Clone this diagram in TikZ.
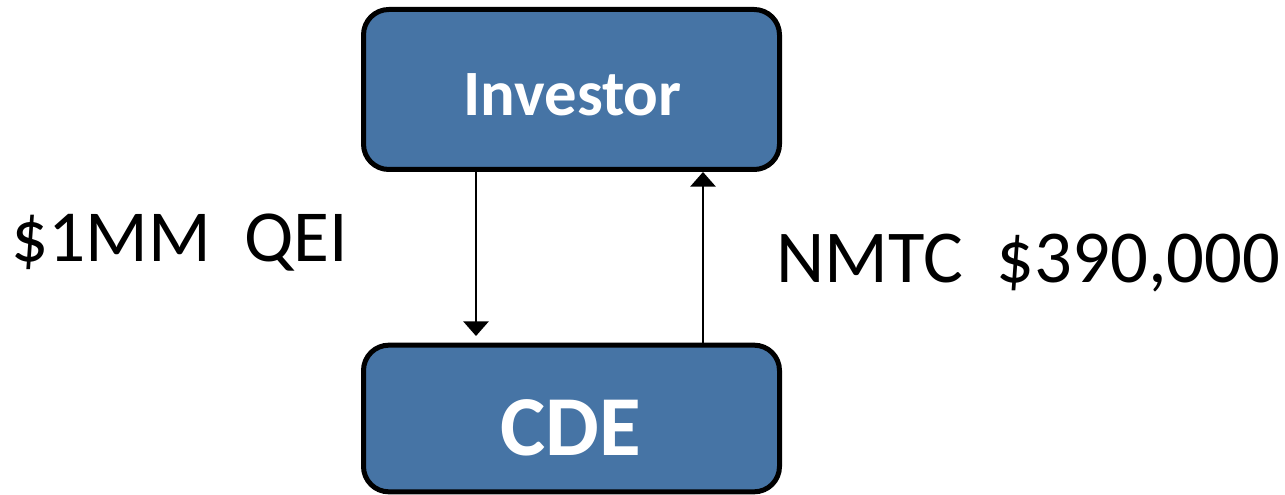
\documentclass[tikz,border=0pt]{standalone}
\usepackage{fontspec}
\setmainfont{Carlito}
\usetikzlibrary{arrows.meta}
\definecolor{boxblue}{RGB}{70,116,165}
\tikzset{
  entity/.style={draw=black, fill=boxblue, line width=3.75pt, rounded corners=19pt, minimum width=312pt, inner sep=0pt},
  boxtext/.style={text=white, font=\bfseries, inner sep=0pt, anchor=base},
  flowlabel/.style={text=black, inner sep=0pt, anchor=base west, font=\fontsize{55}{60}\selectfont},
  flow/.style={line width=1.4pt, -{Triangle[width=19pt,length=11pt]}}
}
\begin{document}
\begin{tikzpicture}[x=0.75pt,y=-0.75pt]
\useasboundingbox (0,0) rectangle (1285,495);
\node[entity, minimum height=120pt] (inv) at (571.5,89.5) {};
\node[entity, minimum height=110pt] (cde) at (571.5,418.5) {};
\node[boxtext, font=\bfseries\fontsize{48.5}{52}\selectfont] (invt) at (572.5,116) {Investor};
\node[boxtext, font=\bfseries\fontsize{64}{70}\selectfont] (cdet) at (571,455) {CDE};
\node[flowlabel] (qei) at (11,262) {\$1MM~~QEI};
\node[flowlabel, font=\fontsize{56}{60}\selectfont] (nmtc) at (776,282) {NMTC~~\$390,000};
\coordinate (tipA) at (476,336);
\coordinate (colB) at (703,0);
\draw[flow] (inv.south -| tipA) -- (tipA);
\draw[flow] (cde.north -| colB) -- (inv.south -| colB);
\end{tikzpicture}
\end{document}
